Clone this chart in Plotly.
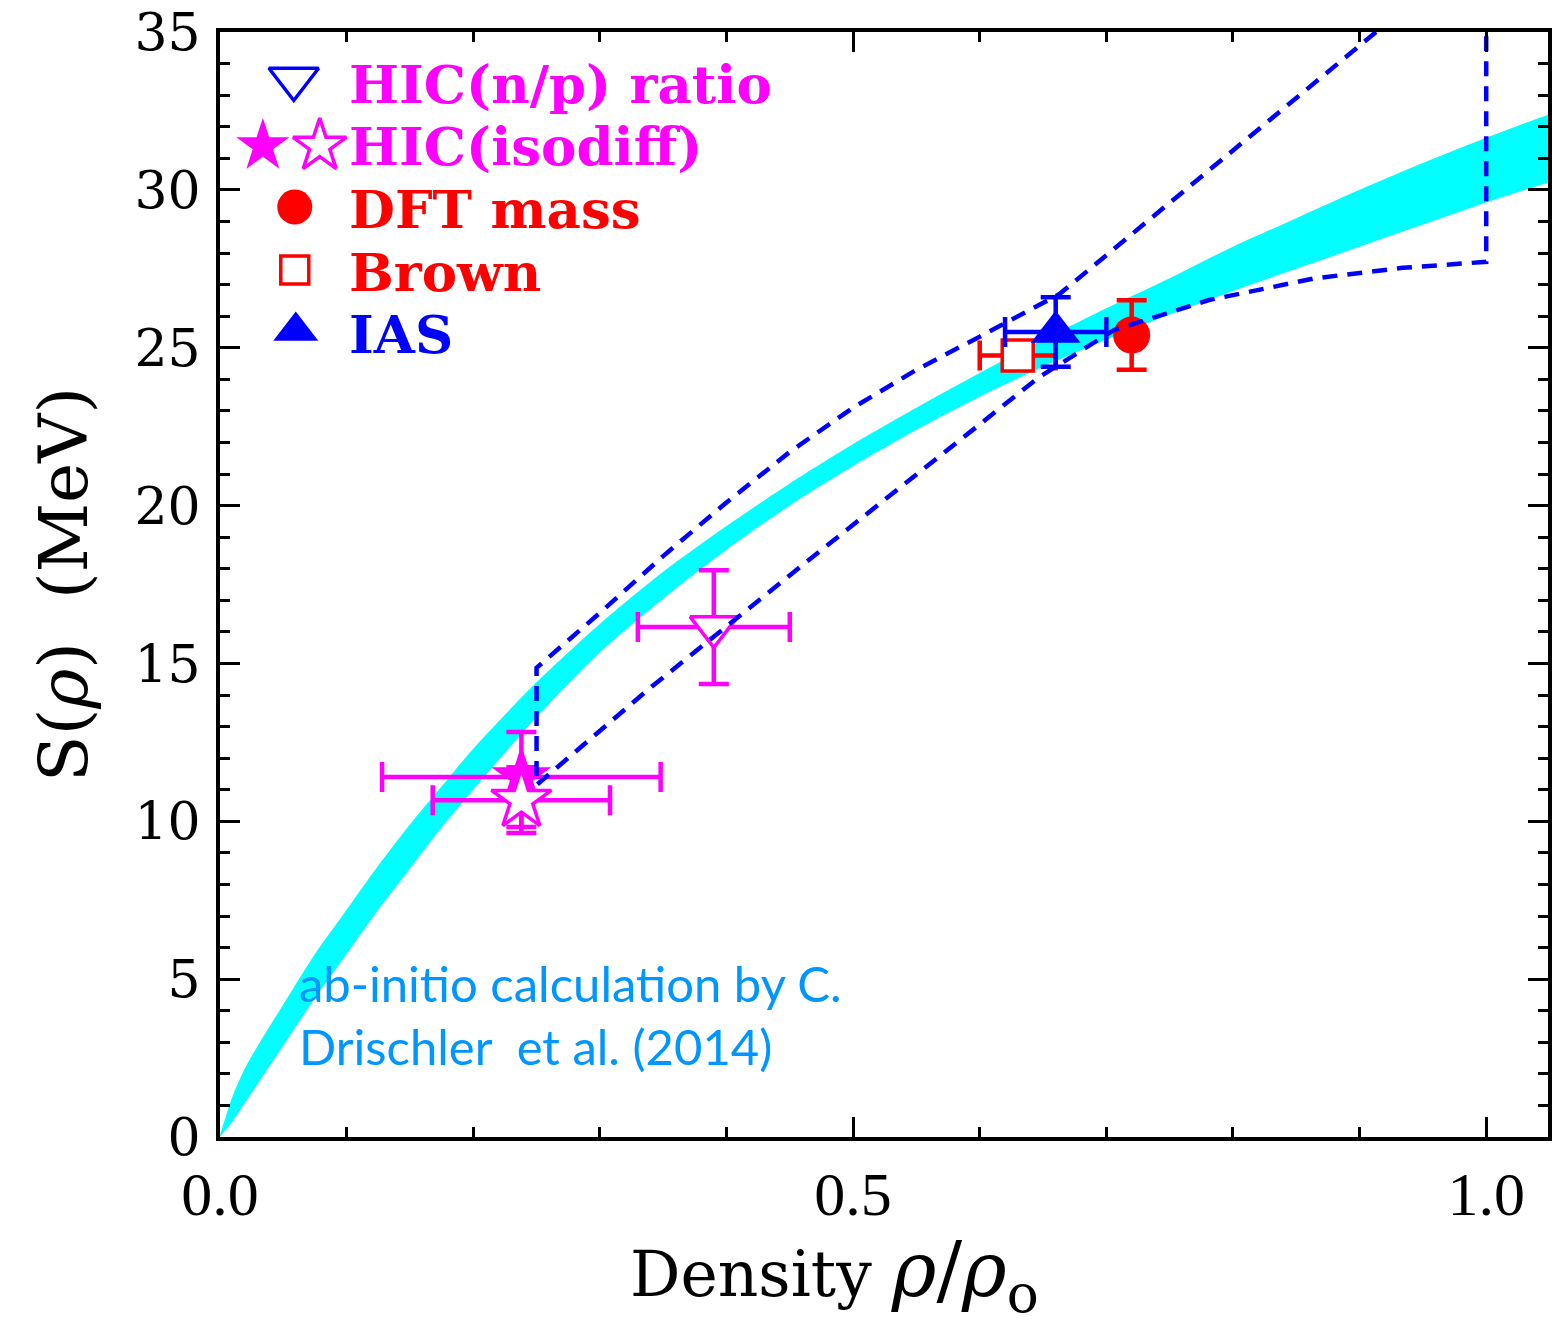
import plotly.graph_objects as go

# ---------------- data ----------------
# cyan band: ab-initio calculation (upper / lower edge)
band_rho = [0.0, 0.005, 0.01, 0.02, 0.03, 0.05, 0.075, 0.1, 0.125, 0.15, 0.175, 0.2,
            0.25, 0.3, 0.35, 0.4, 0.45, 0.5, 0.55, 0.6, 0.65, 0.7, 0.75, 0.8, 0.85,
            0.9, 0.95, 1.0, 1.05, 1.1]
band_upper = [0.0, 0.7, 1.3, 2.2, 2.9, 4.2, 5.8, 7.2, 8.6, 9.9, 11.1, 12.3,
              14.4, 16.25, 17.9, 19.35, 20.7, 21.95, 23.1, 24.2, 25.25, 26.25, 27.2, 28.2, 29.1,
              30.0, 30.85, 31.65, 32.4, 33.1]
band_lower = [0.0, 0.25, 0.5, 1.1, 1.7, 2.9, 4.4, 5.8, 7.2, 8.5, 9.8, 11.0,
              13.3, 15.35, 17.05, 18.6, 20.0, 21.25, 22.4, 23.45, 24.4, 25.25, 26.05, 26.8, 27.5,
              28.2, 28.9, 29.6, 30.25, 30.9]

# dashed constraint region (upper branch, from top down; lower branch, left to right)
dash_upper_rho = [0.913, 0.663, 0.60, 0.55, 0.50, 0.45, 0.40, 0.35, 0.30, 0.25]
dash_upper_s = [35.0, 26.7, 25.35, 24.3, 23.1, 21.7, 20.1, 18.4, 16.6, 14.86]
dash_lower_rho = [0.25, 0.339, 0.472, 0.624, 0.647, 0.706, 0.781, 0.865, 0.934, 1.0, 1.0]
dash_lower_s = [11.15, 14.2, 18.5, 23.35, 24.07, 25.56, 26.51, 27.2, 27.53, 27.72, 35.0]

# data points
np_rho, np_s, np_rho_err, np_s_err = [0.39], [16.15], [0.06], [1.8]            # HIC(n/p) ratio
isoA_rho, isoA_s, isoA_rho_err = [0.238], [11.4], [0.11]                       # HIC(isodiff) filled
isoA_s_plus, isoA_s_minus = [1.43], [1.58]
isoB_rho, isoB_s, isoB_rho_err, isoB_s_err = [0.238], [10.67], [0.07], [1.04]  # HIC(isodiff) open
dft_rho, dft_s, dft_s_err = [0.72], [25.4], [1.1]                              # DFT mass
brown_rho, brown_s, brown_rho_err = [0.63], [24.75], [0.03]                   # Brown
ias_rho, ias_s, ias_rho_err, ias_s_err = [0.66], [25.5], [0.04], [1.1]         # IAS

x_tickvals = [0.0, 0.5, 1.0]
x_ticktext = ["0.0", "0.5", "1.0"]
y_tickvals = [0, 5, 10, 15, 20, 25, 30, 35]

MAG = "#FF00FF"
RED = "#FF0000"
BLUE = "#0000FF"
CYAN = "#00FFFF"

fig = go.Figure()

# band
fig.add_trace(go.Scatter(
    x=band_rho + band_rho[::-1], y=band_upper + band_lower[::-1],
    mode="lines", fill="toself", fillcolor=CYAN,
    line=dict(width=0, color=CYAN, shape="spline", smoothing=0.8),
    hoverinfo="skip", showlegend=False))

def err(arr, color, minus=None):
    d = dict(type="data", array=arr, color=color, thickness=4.5, width=15, visible=True)
    if minus is not None:
        d["symmetric"] = False
        d["arrayminus"] = minus
    return d

# DFT mass
fig.add_trace(go.Scatter(x=dft_rho, y=dft_s, mode="markers",
    error_y=err(dft_s_err, RED),
    marker=dict(symbol="circle", size=37, color=RED, line=dict(width=0)), showlegend=False))
# Brown
fig.add_trace(go.Scatter(x=brown_rho, y=brown_s, mode="markers",
    error_x=err(brown_rho_err, RED),
    marker=dict(symbol="square", size=31, color="white", line=dict(width=3.5, color=RED)), showlegend=False))
# IAS
fig.add_trace(go.Scatter(x=ias_rho, y=ias_s, mode="markers",
    error_x=err(ias_rho_err, BLUE), error_y=err(ias_s_err, BLUE),
    marker=dict(symbol="triangle-up", size=43, color=BLUE, line=dict(width=0)), showlegend=False))
# HIC(n/p)
fig.add_trace(go.Scatter(x=np_rho, y=np_s, mode="markers",
    error_x=err(np_rho_err, MAG), error_y=err(np_s_err, MAG),
    marker=dict(symbol="triangle-down", size=41, color="white", line=dict(width=3.5, color=MAG)), showlegend=False))
# HIC(isodiff) filled
fig.add_trace(go.Scatter(x=isoA_rho, y=isoA_s, mode="markers",
    error_x=err(isoA_rho_err, MAG), error_y=err(isoA_s_plus, MAG, isoA_s_minus),
    marker=dict(symbol="star", size=45, color=MAG, line=dict(width=0)), showlegend=False))
# HIC(isodiff) open
fig.add_trace(go.Scatter(x=isoB_rho, y=isoB_s, mode="markers",
    error_x=err(isoB_rho_err, MAG), error_y=err(isoB_s_err, MAG),
    marker=dict(symbol="star", size=45, color="white", line=dict(width=3.5, color=MAG)), showlegend=False))

# dashed region
fig.add_trace(go.Scatter(
    x=dash_upper_rho + dash_lower_rho, y=dash_upper_s + dash_lower_s,
    mode="lines", line=dict(color=BLUE, width=4.5, dash="15px,10px"),
    hoverinfo="skip", showlegend=False))

# ---------------- legend (drawn on an overlay axis in page pixels) ----------------
leg_sym = [
    dict(x=294, y=79, symbol="triangle-down", size=43, color="white", lc=BLUE, lw=3.5),
    dict(x=263, y=146, symbol="star", size=40, color=MAG, lc=MAG, lw=0),
    dict(x=320, y=146, symbol="star", size=40, color="white", lc=MAG, lw=3.5),
    dict(x=295, y=207, symbol="circle", size=35, color=RED, lc=RED, lw=0),
    dict(x=295, y=270, symbol="square", size=28, color="white", lc=RED, lw=3.5),
    dict(x=296, y=331, symbol="triangle-up", size=39, color=BLUE, lc=BLUE, lw=0),
]
for s in leg_sym:
    fig.add_trace(go.Scatter(x=[s["x"]], y=[s["y"]], xaxis="x2", yaxis="y2", mode="markers",
        marker=dict(symbol=s["symbol"], size=s["size"], color=s["color"],
                    line=dict(width=s["lw"], color=s["lc"])),
        showlegend=False, hoverinfo="skip", cliponaxis=False))

leg_txt = [("HIC(n/p) ratio", 84, MAG), ("HIC(isodiff)", 146, MAG), ("DFT mass", 209, RED),
           ("Brown", 272, RED), ("IAS", 334, BLUE)]
annotations = []
for t, y, c in leg_txt:
    annotations.append(dict(x=347, y=y, xref="x2", yref="y2", text=t, showarrow=False,
                            xanchor="left", yanchor="middle",
                            font=dict(family="DejaVu Serif", size=53, color=c, weight="bold")))

annotations.append(dict(x=297, y=983, xref="x2", yref="y2", text="ab-initio calculation by C.",
                        showarrow=False, xanchor="left", yanchor="middle",
                        font=dict(family="Lato", size=49, color="#0096FF")))
annotations.append(dict(x=297, y=1046, xref="x2", yref="y2", text="Drischler\u00a0 et al. (2014)",
                        showarrow=False, xanchor="left", yanchor="middle",
                        font=dict(family="Lato", size=49, color="#0096FF")))

# x-axis title (placed like the reference, a little left of the plot centre)
annotations.append(dict(x=0.4625, y=-0.125, xref="paper", yref="paper",
                        text="Density <span style='font-size:76px'><i>ρ</i>/<i>ρ</i><sub>o</sub></span>",
                        showarrow=False, xanchor="center", yanchor="middle",
                        font=dict(family="DejaVu Serif", size=63, color="black")))

fig.update_layout(
    width=1554, height=1325,
    margin=dict(l=220, r=2, t=32, b=188),
    paper_bgcolor="white", plot_bgcolor="white",
    annotations=annotations,
    xaxis=dict(range=[0, 1.0488], tickvals=x_tickvals, ticktext=x_ticktext,
               ticks="inside", ticklen=20, tickwidth=3, tickcolor="black",
               minor=dict(ticks="inside", ticklen=10, tickwidth=3, dtick=0.1, tick0=0, tickcolor="black"),
               showline=True, linewidth=4, linecolor="black", mirror="ticks",
               showgrid=False, zeroline=False, ticklabelstandoff=0,
               tickfont=dict(family="Liberation Serif", size=62, color="black")),
    yaxis=dict(range=[0, 35], tickvals=y_tickvals,
               ticks="inside", ticklen=20, tickwidth=3, tickcolor="black",
               minor=dict(ticks="inside", ticklen=10, tickwidth=3, dtick=1, tick0=0, tickcolor="black"),
               showline=True, linewidth=4, linecolor="black", mirror="ticks",
               showgrid=False, zeroline=False, ticklabelstandoff=5,
               tickfont=dict(family="DejaVu Serif", size=52, color="black"),
               title=dict(text="S(<i>ρ</i>)\u00a0\u00a0(MeV)", standoff=26,
                          font=dict(family="DejaVu Serif", size=68, color="black"))),
    xaxis2=dict(overlaying="x", anchor="y2", range=[220, 1552], visible=False, fixedrange=True),
    yaxis2=dict(overlaying="y", anchor="x2", range=[1137, 32], visible=False, fixedrange=True),
)

fig.write_html("out.html")
